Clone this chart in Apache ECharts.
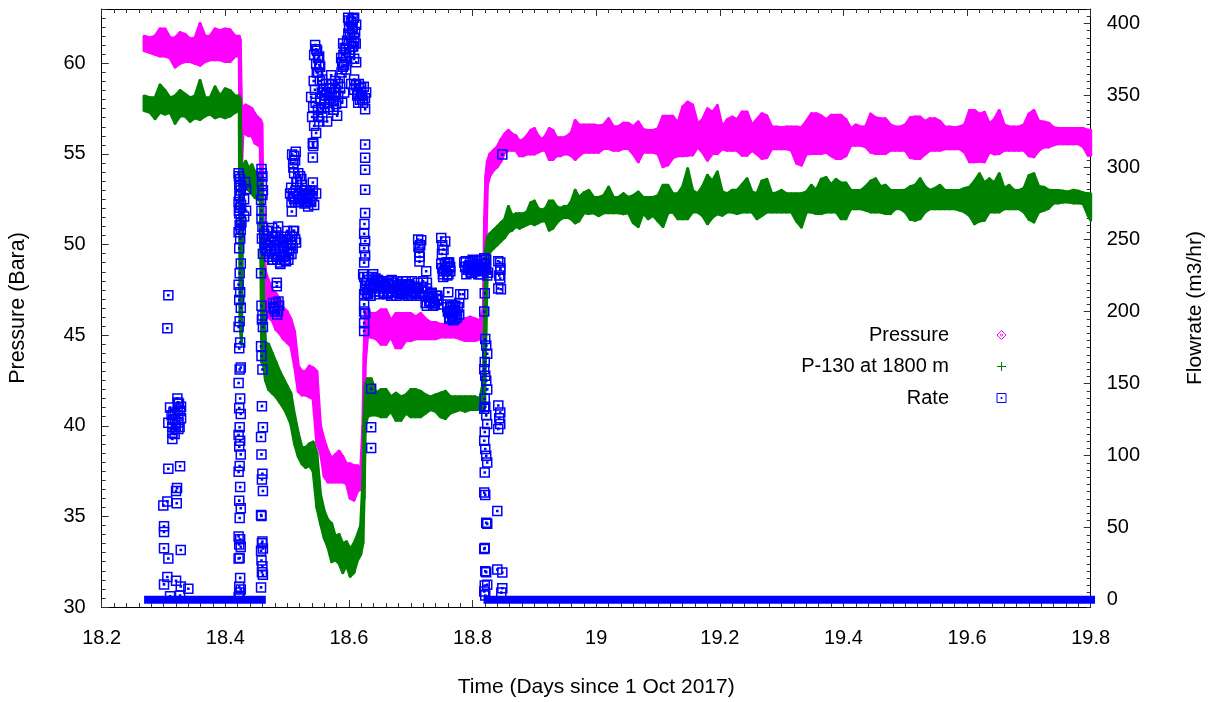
<!DOCTYPE html>
<html>
<head>
<meta charset="utf-8">
<script src="https://cdn.jsdelivr.net/npm/echarts@6/dist/echarts.min.js"></script>
<style>html,body{margin:0;padding:0;background:#fff}#chart{width:1216px;height:702px}</style>
</head>
<body>
<div id="chart"></div>
<script>
// ---------------- DATA ----------------
// Shared sample times (days since 1 Oct 2017) for the two pressure bands
const bandTime = [
  18.2685, 18.2782, 18.2863, 18.2944, 18.3025, 18.3106, 18.3187, 18.3268, 18.3348, 18.3429,
  18.3510, 18.3591, 18.3672, 18.3753, 18.3834, 18.3915, 18.3996, 18.4077, 18.4158, 18.4225,
  18.4240, 18.4262, 18.4285, 18.4330, 18.4380, 18.4430, 18.4480, 18.4530, 18.4565, 18.4590, 18.4620, 18.4650,
  18.470, 18.476, 18.482, 18.488, 18.494, 18.500, 18.506, 18.512, 18.518, 18.524,
  18.530, 18.536, 18.542, 18.548, 18.554, 18.560, 18.566, 18.572, 18.578, 18.584,
  18.590, 18.596, 18.602, 18.608, 18.614, 18.619, 18.6225, 18.6245, 18.6265, 18.630,
  18.636, 18.644, 18.652, 18.660, 18.668, 18.676, 18.684, 18.692, 18.700, 18.708,
  18.716, 18.724, 18.732, 18.740, 18.748, 18.756, 18.764, 18.772, 18.780, 18.788,
  18.796, 18.804, 18.812, 18.8175,
  18.8195, 18.8215, 18.824, 18.828, 18.834, 18.840, 18.846, 18.852, 18.858, 18.864, 18.870,
  18.876, 18.882, 18.888, 18.894, 18.900, 18.906, 18.912, 18.918, 18.924, 18.930,
  18.936, 18.942, 18.948, 18.954, 18.960, 18.966, 18.972,
  18.980, 18.988, 18.996, 19.004, 19.012, 19.020, 19.028, 19.036, 19.044, 19.052,
  19.060, 19.068, 19.076, 19.084, 19.092, 19.100, 19.108, 19.116, 19.124, 19.132,
  19.140, 19.148, 19.156, 19.164, 19.172, 19.180, 19.188, 19.196, 19.204, 19.212,
  19.220, 19.228, 19.236, 19.244, 19.252, 19.260, 19.268, 19.276, 19.284, 19.292,
  19.300, 19.308, 19.316, 19.324, 19.332, 19.340, 19.348, 19.356, 19.364, 19.372,
  19.380, 19.388, 19.396, 19.404, 19.412, 19.420, 19.428, 19.436, 19.444, 19.452,
  19.460, 19.468, 19.476, 19.484, 19.492, 19.500, 19.508, 19.516, 19.524, 19.532,
  19.540, 19.548, 19.556, 19.564, 19.572, 19.580, 19.588, 19.596, 19.604, 19.612,
  19.620, 19.628, 19.636, 19.644, 19.652, 19.660, 19.668, 19.676, 19.684, 19.692,
  19.700, 19.708, 19.716, 19.724, 19.732, 19.740, 19.748, 19.756, 19.764, 19.772,
  19.780, 19.788, 19.796, 19.800
];

// "Pressure" (Bara): lower and upper edge of the scatter band
const pressureLow = [
  60.7, 60.6, 60.5, 60.4, 60.4, 60.3, 59.8, 60.0, 60.1, 60.1,
  60.0, 59.9, 60.1, 60.2, 60.2, 60.2, 60.1, 60.1, 60.4, 60.4,
  55.0, 54.2, 56.2, 56.1, 56.0, 56.0, 55.6, 55.5, 55.4, 48.5, 47.5, 46.5,
  46.0, 45.8, 45.3, 45.1, 44.8, 44.6, 44.4, 43.3, 41.9, 41.7,
  41.7, 41.6, 41.5, 39.0, 38.5, 37.2, 36.9, 36.9, 36.9, 36.9,
  36.9, 36.8, 36.0, 35.9, 36.4, 36.5, 36.8, 40.0, 43.5, 44.9,
  44.9, 44.8, 44.5, 44.5, 44.9, 44.3, 44.3, 44.7, 44.7, 44.8,
  44.8, 44.8, 44.8, 44.8, 44.9, 44.9, 44.9, 44.9, 44.8, 44.7,
  44.7, 44.7, 44.8, 44.8,
  45.5, 50.0, 53.3, 53.8, 54.1, 54.3, 54.6, 55.1, 55.2, 55.2, 55.2,
  54.9, 54.9, 55.0, 55.0, 55.0, 55.1, 55.2, 55.2, 54.7, 54.7,
  54.9, 54.9, 55.0, 55.0, 54.9, 54.7, 54.9,
  55.1, 55.1, 55.1, 55.1, 55.3, 55.3, 55.2, 55.2, 55.3, 55.3,
  55.0, 54.57, 55.1, 55.1, 55.1, 55.0, 54.3, 54.4, 54.8, 54.9,
  54.9, 54.93, 54.95, 55.39, 55.1, 54.66, 55.02, 55.02, 55.29, 55.2,
  55.2, 55.2, 54.93, 54.93, 55.2, 55.0, 54.75, 54.8, 55.29, 55.29,
  55.29, 55.29, 55.2, 54.5, 54.39, 55.0, 55.02, 55.02, 55.02, 55.1,
  54.9, 54.75, 54.75, 54.9, 55.48, 55.48, 55.48, 55.4, 55.1, 55.02,
  55.02, 55.02, 55.2, 55.2, 55.2, 55.2, 54.8, 54.75, 54.75, 55.0,
  55.2, 55.2, 55.2, 55.29, 55.29, 55.29, 55.29, 55.1, 54.57, 54.57,
  54.6, 54.57, 55.11, 55.0, 55.02, 55.2, 55.2, 55.2, 55.2, 55.2,
  54.9, 54.84, 55.2, 55.39, 55.39, 55.5, 55.57, 55.57, 55.57, 55.57,
  55.57, 55.4, 54.93, 54.93
];
const pressureHigh = [
  61.5, 61.4, 61.5, 61.9, 61.9, 61.4, 61.4, 61.7, 61.6, 61.35,
  61.4, 62.2, 61.5, 61.5, 61.9, 61.8, 61.9, 61.85, 61.5, 61.5,
  61.3, 57.6, 57.6, 57.7, 57.6, 57.5, 57.2, 57.0, 56.9, 56.7, 50.5, 48.5,
  48.0, 47.5, 47.3, 47.0, 46.5, 46.3, 45.9, 45.2, 43.3, 43.0,
  43.0, 43.3, 43.2, 43.0, 40.0, 39.2, 38.6, 38.2, 38.4, 38.6,
  38.3, 37.9, 37.9, 37.8, 37.8, 37.6, 40.0, 44.0, 46.3, 46.3,
  46.2, 46.2, 46.4, 46.4, 45.8, 46.2, 46.2, 46.2, 46.2, 46.0,
  46.2, 45.9, 45.7, 45.7, 45.6, 45.6, 45.7, 45.7, 45.8, 45.9,
  46.0, 45.9, 45.8, 46.5,
  51.5, 53.8, 54.6, 55.0, 55.2, 55.4, 55.8, 56.1, 56.3, 56.1, 56.0,
  55.7, 55.8, 56.0, 56.3, 56.4, 56.0, 55.8, 56.0, 56.4, 56.3,
  55.9, 55.9, 55.9, 56.0, 56.2, 56.85, 56.6,
  56.6, 56.6, 56.6, 56.55, 56.6, 56.95, 56.5, 56.5, 56.7, 56.7,
  56.5, 56.77, 56.35, 56.3, 56.3, 56.4, 57.08, 57.08, 57.08, 56.7,
  57.6, 57.86, 57.7, 56.67, 56.9, 57.49, 57.3, 57.67, 56.49, 56.9,
  57.04, 56.9, 57.31, 57.31, 56.6, 56.9, 57.22, 57.1, 56.49, 56.49,
  56.45, 56.49, 56.49, 56.49, 56.45, 56.8, 57.22, 57.22, 57.1, 56.9,
  57.13, 57.13, 57.13, 56.9, 56.4, 56.6, 56.49, 56.5, 57.2, 57.0,
  56.95, 56.95, 56.6, 56.49, 56.49, 56.6, 57.0, 57.04, 57.04, 56.8,
  56.95, 56.95, 56.8, 56.49, 56.49, 56.45, 56.49, 56.6, 57.4, 57.4,
  57.2, 57.3, 56.67, 56.9, 57.4, 56.6, 56.49, 56.49, 56.49, 56.6,
  57.2, 57.4, 56.8, 56.77, 56.7, 56.45, 56.40, 56.40, 56.40, 56.40,
  56.40, 56.4, 56.31, 56.31
];

// "P-130 at 1800 m" (Bara): lower and upper edge of the scatter band
const p130Low = [
  57.4, 57.3, 56.95, 57.3, 57.2, 57.3, 56.7, 57.1, 57.1, 56.8,
  57.0, 56.9, 57.1, 57.2, 57.0, 57.1, 57.0, 57.1, 57.3, 57.4,
  45.5, 44.5, 53.3, 53.1, 53.0, 52.8, 52.6, 52.5, 52.4, 43.5, 43.3, 42.5,
  42.0, 41.8, 41.6, 41.3, 41.0, 40.6, 40.1, 39.0, 38.3, 37.9,
  37.7, 37.8, 37.5, 35.5, 34.6, 33.8, 33.3, 32.5, 32.6, 32.4,
  31.9, 32.3, 31.7, 31.9, 32.6, 32.9, 33.5, 36.0, 40.0, 40.5,
  40.6, 40.6, 40.5, 40.5, 40.8, 40.3, 40.3, 40.7, 40.5, 40.5,
  40.5, 40.7, 40.9, 40.8, 40.5, 40.4, 40.7, 40.8, 40.9, 40.8,
  40.9, 40.9, 40.9, 40.8,
  41.0, 45.0, 48.8, 49.6, 49.8, 50.0, 50.2, 50.4, 50.7, 50.8, 51.0,
  50.9, 51.0, 51.1, 51.2, 51.1, 51.2, 51.3, 51.3, 50.8, 50.9,
  51.2, 51.4, 51.5, 51.5, 51.4, 51.2, 51.3,
  51.75, 51.71, 51.75, 51.6, 51.75, 51.75, 51.75, 51.75, 51.7, 51.75,
  51.2, 51.0, 51.75, 51.43, 51.6, 51.3, 51.0, 51.75, 51.8, 51.43,
  51.43, 51.43, 51.8, 51.8, 51.6, 51.15, 51.5, 51.7, 51.62, 51.8,
  51.8, 51.71, 51.8, 51.8, 51.8, 51.43, 51.6, 51.8, 51.8, 51.8,
  51.8, 51.8, 51.8, 51.3, 50.97, 51.8, 51.8, 51.71, 51.71, 51.8,
  51.8, 51.8, 51.43, 51.43, 51.98, 51.98, 51.98, 51.9, 51.8, 51.8,
  51.8, 51.71, 51.71, 51.98, 51.98, 51.8, 51.4, 51.34, 51.43, 51.8,
  51.98, 51.98, 51.98, 51.98, 51.98, 51.98, 51.9, 51.8, 51.6, 51.15,
  51.3, 51.34, 51.8, 51.8, 51.8, 51.98, 51.98, 51.98, 51.98, 51.8,
  51.4, 51.25, 51.8, 51.89, 52.0, 52.3, 52.3, 52.35, 52.35, 52.3,
  52.3, 52.25, 51.6, 51.34
];
const p130High = [
  58.2, 58.1, 58.1, 58.8, 58.5, 58.1, 58.2, 58.5, 58.3, 58.1,
  58.2, 59.05, 58.1, 58.1, 58.7, 58.2, 58.6, 58.5, 58.2, 58.2,
  58.0, 54.3, 54.3, 54.6, 54.2, 54.4, 54.0, 53.8, 53.6, 53.5, 47.0, 44.6,
  44.5, 44.0, 43.5, 43.0, 42.6, 42.2, 41.8, 40.6, 39.6, 38.8,
  38.8, 39.0, 39.1, 38.5, 36.2, 35.3, 34.8, 34.6, 33.9, 34.0,
  33.5, 33.6, 33.2, 33.5, 34.0, 34.5, 37.0, 40.5, 42.3, 42.6,
  42.6, 41.8, 42.0, 42.0, 41.6, 41.8, 41.6, 41.7, 42.0, 42.0,
  41.9, 41.7, 41.6, 41.7, 41.8, 41.9, 41.6, 41.6, 41.6, 41.6,
  41.6, 41.6, 41.5, 42.5,
  46.5, 49.8, 50.4, 50.6, 50.8, 51.0, 51.2, 51.4, 52.1, 51.6, 51.7,
  51.7, 51.7, 51.8, 52.3, 52.4, 52.0, 51.9, 52.0, 52.4, 52.4,
  52.1, 52.0, 52.1, 52.1, 52.4, 53.0, 52.6,
  52.85, 52.99, 52.6, 52.6, 52.7, 53.17, 52.6, 52.6, 52.81, 52.6,
  52.7, 52.9, 52.6, 52.6, 52.6, 52.7, 53.27, 53.27, 52.8, 52.8,
  53.2, 54.18, 52.99, 52.81, 53.2, 53.82, 53.5, 54.0, 52.9, 52.81,
  53.0, 53.0, 53.3, 53.63, 52.9, 52.81, 53.5, 53.6, 52.81, 52.85,
  52.99, 52.81, 52.81, 52.81, 52.81, 52.9, 53.27, 53.0, 53.6, 53.7,
  53.3, 53.6, 53.4, 53.4, 52.99, 52.99, 52.99, 53.2, 53.5, 53.63,
  53.2, 53.27, 52.99, 52.99, 52.99, 53.0, 53.2, 53.27, 53.63, 53.2,
  52.99, 53.1, 53.27, 52.99, 52.99, 52.99, 52.99, 53.1, 53.17, 53.5,
  53.91, 53.4, 53.63, 53.4, 53.91, 53.1, 53.27, 53.0, 52.99, 53.1,
  53.8, 53.91, 53.2, 53.17, 53.0, 52.99, 52.99, 52.95, 52.9, 53.0,
  52.95, 52.85, 52.81, 52.8
];

// "Rate" (m3/hr): individual non-zero samples
const rateTime = [
  18.2997, 18.3008, 18.3008, 18.3008, 18.3008, 18.3062, 18.3062, 18.3062, 18.3078, 18.3078, 18.3078, 18.3078,
  18.3106, 18.3106, 18.3143, 18.3143, 18.3143, 18.3187, 18.3187, 18.3203, 18.3203, 18.3214, 18.3219, 18.3224,
  18.3235, 18.3240, 18.3240, 18.3240, 18.3268, 18.3268, 18.3268, 18.3279, 18.3279, 18.3284, 18.3284, 18.3402,
  18.3150, 18.3160, 18.3200, 18.3230, 18.3180, 18.3260, 18.3250, 18.3130,
  18.4215, 18.4240, 18.4225, 18.4250, 18.4232, 18.4215, 18.4240, 18.4225, 18.4250, 18.4232,
  18.4215, 18.4240, 18.4225, 18.4250, 18.4232, 18.4215, 18.4240, 18.4225, 18.4250, 18.4232,
  18.4215, 18.4240, 18.4225, 18.4250, 18.4232, 18.4215, 18.4240, 18.4225, 18.4250, 18.4232,
  18.4215, 18.4240, 18.4225, 18.4250, 18.4232, 18.4215, 18.4240, 18.4225, 18.4250, 18.4232,
  18.4215, 18.4240, 18.4225, 18.4250, 18.4232, 18.4215, 18.4240, 18.4225, 18.4250, 18.4232,
  18.4215, 18.4320, 18.4336, 18.4304, 18.4336, 18.4304,
  18.4220, 18.4245, 18.4230, 18.4255, 18.4220, 18.4260, 18.4250,
  18.4585, 18.4600, 18.4592, 18.4608, 18.4578, 18.4585, 18.4600, 18.4592, 18.4608, 18.4578,
  18.4585, 18.4600, 18.4592, 18.4608, 18.4578, 18.4585, 18.4600, 18.4592, 18.4608, 18.4578,
  18.4585, 18.4600, 18.4592, 18.4608, 18.4578, 18.4585, 18.4600, 18.4592, 18.4608, 18.4578,
  18.4585, 18.4600, 18.4592, 18.4608, 18.4578,
  18.4590, 18.4600, 18.4585,
  18.4627, 18.4660, 18.4692, 18.4724, 18.4757, 18.4643, 18.4692, 18.4741, 18.4773, 18.4822, 18.4886,
  18.4935, 18.4983, 18.5032, 18.4789, 18.4854, 18.4951, 18.5016, 18.5064, 18.4757, 18.4822, 18.4854,
  18.5000, 18.5081, 18.5145, 18.5113, 18.4833, 18.4833, 18.4773, 18.4805, 18.4838, 18.4870, 18.4789,
  18.4635, 18.4665, 18.4700, 18.4710, 18.4745, 18.4760, 18.4790, 18.4800, 18.4840, 18.4870,
  18.4900, 18.4915, 18.4950, 18.4970, 18.5000, 18.5020, 18.5050, 18.5090, 18.5100, 18.5130,
  18.4680, 18.4730, 18.4770, 18.4810, 18.4830, 18.4880, 18.4890, 18.4930, 18.4960, 18.4990, 18.5040, 18.5070,
  18.4780, 18.4815, 18.4850, 18.4860,
  18.5081, 18.5129, 18.5097, 18.5113, 18.5162, 18.5210, 18.5242, 18.5048, 18.5113, 18.5178, 18.5242,
  18.5307, 18.5372, 18.5437, 18.5469, 18.5275, 18.5340, 18.5076, 18.5416, 18.5416, 18.5416, 18.5416,
  18.5065, 18.5090, 18.5140, 18.5150, 18.5190, 18.5225, 18.5260, 18.5290, 18.5320, 18.5355,
  18.5390, 18.5410, 18.5180, 18.5230, 18.5100, 18.5115, 18.5140,
  18.5200, 18.5240, 18.5280, 18.5310, 18.5340, 18.5370, 18.5130, 18.5100, 18.5070,
  18.5987, 18.6036, 18.6084, 18.6117, 18.6052, 18.6003, 18.6019, 18.6084, 18.5906, 18.5955, 18.6003, 18.6052, 18.6084, 18.6084, 18.6117,
  18.5874, 18.5923, 18.5955, 18.5890, 18.5453, 18.5485, 18.5518, 18.5469, 18.5534, 18.5437,
  18.5502, 18.5566, 18.5631, 18.5696, 18.5761, 18.5825, 18.5890, 18.5615, 18.5680, 18.5745,
  18.5809, 18.5550, 18.5502, 18.5647, 18.5777, 18.5858, 18.5923, 18.5712, 18.5583, 18.5793,
  18.6036, 18.6084, 18.6133, 18.6181, 18.6230, 18.6278, 18.6117, 18.6198, 18.6084, 18.6262,
  18.5388, 18.5421, 18.5404, 18.5437, 18.5469, 18.5421, 18.5421,
  18.5470, 18.5500, 18.5520, 18.5480, 18.5530, 18.5560, 18.5600, 18.5640, 18.5660, 18.5700,
  18.5730, 18.5760, 18.5790, 18.5820, 18.5850, 18.5880, 18.5910, 18.5930, 18.5970, 18.6000,
  18.6020, 18.6000, 18.6060, 18.6100, 18.6070, 18.6150, 18.6160, 18.6210, 18.6240, 18.6260,
  18.5430, 18.5450, 18.5460, 18.5500, 18.5570,
  18.5990, 18.6040, 18.6060, 18.6110, 18.5950, 18.5900, 18.6150, 18.6190, 18.6220, 18.5680,
  18.5720, 18.5750, 18.5610, 18.5540, 18.5520,
  18.6262, 18.6262, 18.6262, 18.6262, 18.6262, 18.6251, 18.6246, 18.6262, 18.6246, 18.6262,
  18.6246, 18.6246, 18.6262, 18.6246, 18.6246, 18.6246, 18.6262, 18.6246, 18.6246, 18.6359, 18.6359, 18.6359,
  18.6230, 18.6295, 18.6359, 18.6424, 18.6489, 18.6311, 18.6392, 18.6457, 18.6521, 18.6262,
  18.6586, 18.6651, 18.6715, 18.6780, 18.6845, 18.6910, 18.6975, 18.7039, 18.7104, 18.6683, 18.6877, 18.7007,
  18.6270, 18.6330, 18.6370, 18.6410, 18.6440, 18.6470, 18.6500, 18.6540, 18.6560, 18.6600,
  18.6630, 18.6670, 18.6700, 18.6740, 18.6760, 18.6800, 18.6820, 18.6860, 18.6900, 18.6930,
  18.6960, 18.7000, 18.7060, 18.7080, 18.7130, 18.7170, 18.7200,
  18.6290, 18.6350, 18.6390, 18.6430, 18.6480, 18.6520, 18.6570, 18.6620, 18.6650, 18.6690,
  18.6720, 18.6770, 18.6790, 18.6830, 18.6880, 18.6920, 18.6950, 18.6990, 18.7020, 18.7050,
  18.7090, 18.7110, 18.7150, 18.7190,
  18.7120, 18.7153, 18.7137, 18.7169, 18.7141, 18.7250, 18.7493, 18.7542, 18.7590, 18.7638, 18.7525, 18.7622,
  18.7493, 18.7557, 18.7504, 18.7261, 18.7261, 18.7234, 18.7299, 18.7363, 18.7428, 18.7493, 18.7331,
  18.7240, 18.7280, 18.7320, 18.7350, 18.7390, 18.7410, 18.7450,
  18.7260, 18.7300, 18.7340, 18.7370, 18.7430,
  18.7510, 18.7550, 18.7570, 18.7610, 18.7600, 18.7640, 18.7125, 18.7145, 18.7510, 18.7530,
  18.7520, 18.7580, 18.7630,
  18.7606, 18.7800, 18.7849, 18.7784, 18.7590, 18.7655, 18.7719, 18.7784, 18.7687, 18.7622,
  18.7600, 18.7640, 18.7670, 18.7700, 18.7740, 18.7760, 18.7630,
  18.7620, 18.7660, 18.7690, 18.7720, 18.7750,
  18.7865, 18.7930, 18.7994, 18.8059, 18.8124, 18.8189, 18.8253, 18.7962, 18.8091, 18.8221,
  18.7880, 18.7900, 18.7950, 18.7980, 18.8010, 18.8030, 18.8070, 18.8100, 18.8140, 18.8160, 18.8200,
  18.7890, 18.7920, 18.7970, 18.8000, 18.8050, 18.8080, 18.8120, 18.8150, 18.8180,
  18.8448, 18.8448, 18.8448, 18.8459,
  18.8189, 18.8205, 18.8221, 18.8237, 18.8197, 18.8189, 18.8205, 18.8221, 18.8237, 18.8197,
  18.8189, 18.8205, 18.8221, 18.8237, 18.8197, 18.8189, 18.8205, 18.8221, 18.8237, 18.8197,
  18.8189, 18.8205, 18.8221, 18.8237, 18.8197, 18.8189, 18.8205, 18.8221, 18.8237, 18.8197,
  18.8189, 18.8205, 18.8221, 18.8237, 18.8197, 18.8189, 18.8205,
  18.8416, 18.8448, 18.8432, 18.8416, 18.8416, 18.8448, 18.8432, 18.8448, 18.8416, 18.8400, 18.8400, 18.8481, 18.8481, 18.8465, 18.8481
];
const rateValue = [
  65.5, 51, 47, 35.8, 10.7, 188.4, 68.3, 15.8, 211.3, 122.9, 91, 28.6,
  133.5, 2.5, 120, 116, 111.6, 129, 125, 75.5, 13.2, 67, 77.5, 139.7,
  137, 127.6, 123, 118.6, 131, 92.7, 3.0, 34.5, 9.3, 134, 126, 7.7,
  125, 130, 120, 132, 115, 120, 136, 128,
  296, 292, 288, 284, 280, 276, 272, 268, 264, 260,
  255, 250.8, 244, 233.4, 226.7, 218.7, 213.4, 208, 202.7, 193.3,
  189.3, 178.5, 174.5, 161.2, 159.8, 150.4, 139.7, 133, 129, 119.7,
  114.3, 110.3, 106.3, 100.9, 92.9, 88.8, 78.2, 68.8, 63.5, 56.8,
  44, 42, 38.4, 36.7, 29, 28.6, 15.2, 9, 7.2, 5,
  1.9, 290, 285, 278, 270, 266,
  294, 287, 281, 274, 270, 262, 257,
  299, 293.7, 288.3, 284.3, 277.6, 264.2, 258.9, 250.8, 240.1, 226.7,
  204, 197.3, 194.6, 189.3, 175.9, 169.2, 159.8, 134.4, 119.7, 113,
  100.9, 87.5, 83.5, 75.5, 58.8, 58.1, 40.4, 39.3, 35.6, 34,
  27.3, 23.3, 19.2, 17.4, 8.6,
  296, 281, 270,
  254, 250, 246, 242, 252, 244, 256, 248, 236, 240, 234,
  238, 235, 240, 246, 249, 245, 250, 246, 258, 255, 259,
  256, 252, 248, 256, 220, 217.6, 206, 200, 198, 204, 202,
  248, 242, 250, 238, 244, 236, 240, 252, 236, 244,
  238, 248, 240, 252, 244, 236, 252, 244, 256, 250,
  256, 246, 252, 244, 238, 250, 233, 244, 236, 248, 244, 240,
  203, 206, 200, 207,
  309, 305, 303, 296, 290, 294, 288, 282, 278, 276, 280,
  276, 278, 274, 282, 284, 273, 269.5, 289.6, 307, 316.4, 284,
  286, 280, 284, 290, 282, 276, 279, 281, 276, 282,
  276, 280, 296, 292, 300, 308, 311,
  278, 284, 275, 284, 279, 284, 276, 282, 276,
  404, 401, 404, 399, 396, 397, 392, 390, 386, 382, 380, 384, 387, 375.4, 373,
  376, 371, 368, 373, 385, 381, 377, 372, 370, 378,
  366, 361, 358, 355, 352, 349, 345, 350, 345, 340,
  336, 341, 336, 332, 360, 356, 352, 364, 354, 344,
  358, 354, 350, 347, 345, 352, 357, 355, 361, 340.5,
  349, 342, 335, 329, 324, 317, 315,
  382, 376, 371, 366, 360, 352, 347, 352, 342, 348,
  358, 346, 352, 358, 362, 366, 378, 383, 388, 386,
  380, 402, 396, 394, 384, 352, 358, 350, 356, 348,
  360, 354, 345, 340, 335,
  393, 388, 403, 386, 376, 370, 345, 352, 347, 355,
  350, 340, 344, 348, 332,
  316, 306.8, 298.5, 284.5, 268.5, 260.8, 254, 249, 244, 239,
  234, 224, 218, 212, 205, 200, 198.7, 192, 186.5, 146.4, 119.7, 105.4,
  226, 222, 218, 214, 212, 212, 226, 221, 217, 215,
  218, 214, 220, 213, 217, 212, 219, 214, 216, 211, 221, 211,
  220, 216, 224, 219, 216, 222, 214, 220, 213, 217,
  221, 216, 213, 218, 214, 218, 212, 215, 218, 214,
  216, 214, 217, 212, 213, 217, 221,
  213, 211, 219, 223, 218, 221, 216, 212, 219, 222,
  216, 211, 221, 219, 213, 221, 211, 218, 221, 213,
  216, 220, 211, 214,
  250, 246, 241, 249.6, 234.7, 228, 233, 228, 225, 231, 224, 234,
  251, 248.7, 240, 220, 216, 211, 207, 204, 209, 205, 212,
  206, 211, 206, 210, 205, 211, 208,
  204, 210, 213, 206, 211,
  230, 233, 229, 226, 234, 228, 245, 238, 246, 243,
  226, 234, 231,
  213.4, 212, 212, 205.9, 203, 199, 195, 198, 204, 195,
  200, 203, 197, 201, 198, 203, 196,
  199, 205, 194, 204, 196,
  234, 230, 227, 232, 229, 233, 227, 235, 226, 236,
  231, 226, 232, 230, 234, 228, 235, 231, 233, 228, 230,
  235, 229, 227, 236, 229, 233, 226, 236, 231,
  234, 229, 223, 215.5,
  237, 233, 229, 225, 212.7, 200, 181, 176.4, 170.8, 165,
  160, 155.5, 152, 146, 139.5, 132.5, 134, 128, 122, 116.5,
  110.4, 104.6, 100, 95.3, 88.3, 74.4, 72.8, 53.5, 52.7, 36,
  35.3, 19.8, 19.2, 10.5, 9.9, 5.8, 3,
  235, 230, 225, 216, 134.8, 130, 126, 122, 118.6, 61.6, 21, 19, 8, 5, 309
];

// "Rate": periods in which every sample is zero (start / end day)
const rateZeroStart = [18.2686, 18.8177];
const rateZeroEnd = [18.4655, 19.8070];

// Axis ticks
const flowTicks = [0, 50, 100, 150, 200, 250, 300, 350, 400];

// ---------------- CHART ----------------
const FONT = '"Liberation Sans", Arial, Helvetica, sans-serif';
const MAGENTA = '#ff00ff', GREEN = '#008000', BLUE = '#0000ff';

function bandItems(lo, hi) {
  const n = Math.min(bandTime.length, lo.length, hi.length);
  const out = [];
  for (let i = 0; i < n - 1; i++) {
    out.push([bandTime[i], lo[i], hi[i], bandTime[i + 1], lo[i + 1], hi[i + 1]]);
  }
  return out;
}
function bandRenderer(color) {
  return function (params, api) {
    const pts = [
      api.coord([api.value(0), api.value(1)]),
      api.coord([api.value(0), api.value(2)]),
      api.coord([api.value(3), api.value(5)]),
      api.coord([api.value(3), api.value(4)])
    ];
    return { type: 'polygon', shape: { points: pts },
      style: { fill: color, stroke: color, lineWidth: 3, lineJoin: 'round' } };
  };
}

const ratePts = [];
for (let i = 0; i < Math.min(rateTime.length, rateValue.length); i++) ratePts.push([rateTime[i], rateValue[i]]);
const zeroRuns = rateZeroStart.map((s, i) => [s, rateZeroEnd[i], 0]);

const tickStyle = { color: '#333', width: 1 };
const frameLine = { show: true, onZero: false, lineStyle: { color: '#000', width: 1 } };

const chart = echarts.init(document.getElementById('chart'), null, { renderer: 'canvas' });
chart.setOption({
  animation: false,
  backgroundColor: '#fff',
  textStyle: { fontFamily: FONT },
  grid: { left: 101.7, right: 125.3, top: 9, bottom: 95, containLabel: false, outerBoundsMode: 'none' },
  legend: {
    orient: 'vertical', align: 'right', right: 209.5, top: 324, padding: 0,
    itemWidth: 9, itemHeight: 9, itemGap: 9.5, selectedMode: false,
    textStyle: { fontFamily: FONT, fontSize: 20, color: '#000', lineHeight: 22, padding: [0, 43, 0, 0] },
    data: [
      { name: 'Pressure', icon: 'path://M5,0L10,5L5,10L0,5Z M5,3.6L6.4,5L5,6.4L3.6,5Z',
        itemStyle: { color: 'rgba(0,0,0,0)', borderColor: MAGENTA, borderWidth: 1 } },
      { name: 'P-130 at 1800 m', icon: 'path://M4.4,0H5.6V10H4.4Z M0,4.4H10V5.6H0Z',
        itemStyle: { color: GREEN, borderWidth: 0 } },
      { name: 'Rate', icon: 'path://M0,0H10V10H0Z M4.4,4.4H5.6V5.6H4.4Z',
        itemStyle: { color: 'rgba(0,0,0,0)', borderColor: BLUE, borderWidth: 1 } }
    ]
  },
  xAxis: [
    {
      type: 'value', position: 'bottom', min: 18.2, max: 19.8, interval: 0.2,
      axisLine: frameLine,
      axisTick: { inside: true, length: 7, lineStyle: tickStyle },
      minorTick: { show: true, splitNumber: 10, length: 4, lineStyle: tickStyle },
      axisLabel: { fontSize: 20, color: '#000', margin: 21, fontFamily: FONT },
      splitLine: { show: false }, minorSplitLine: { show: false },
      name: 'Time (Days since 1 Oct 2017)', nameLocation: 'middle', nameGap: 69.5,
      nameTextStyle: { fontSize: 21, color: '#000', fontFamily: FONT }
    },
    {
      type: 'value', position: 'top', min: 18.2, max: 19.8, interval: 0.2,
      axisLine: frameLine,
      axisTick: { inside: true, length: 7, lineStyle: tickStyle },
      minorTick: { show: true, splitNumber: 10, length: 4, lineStyle: tickStyle },
      axisLabel: { show: false }, splitLine: { show: false }
    }
  ],
  yAxis: [
    {
      type: 'value', position: 'left', min: 30, max: 63, interval: 5,
      axisLine: frameLine,
      axisTick: { inside: true, length: 7, lineStyle: tickStyle },
      axisLabel: { fontSize: 20, color: '#000', margin: 16, showMaxLabel: false, fontFamily: FONT },
      splitLine: { show: false },
      name: 'Pressure (Bara)', nameLocation: 'middle', nameGap: 73, nameRotate: 90,
      nameTextStyle: { fontSize: 21.5, color: '#000', fontFamily: FONT }
    },
    {
      type: 'value', position: 'left', min: 30, max: 63, interval: 0.5,
      axisLine: { show: false },
      axisTick: { inside: true, length: 4, lineStyle: tickStyle },
      axisLabel: { show: false }, splitLine: { show: false }
    },
    {
      type: 'value', position: 'right', min: -5, max: 410,
      axisLine: frameLine,
      axisTick: { inside: true, length: 7, lineStyle: tickStyle, customValues: flowTicks },
      axisLabel: { fontSize: 20, color: '#000', margin: 16, customValues: flowTicks, fontFamily: FONT },
      splitLine: { show: false },
      name: 'Flowrate (m3/hr)', nameLocation: 'middle', nameGap: 94, nameRotate: 90,
      nameTextStyle: { fontSize: 21, color: '#000', fontFamily: FONT }
    },
    {
      type: 'value', position: 'right', min: -5, max: 410, interval: 5,
      axisLine: { show: false },
      axisTick: { inside: true, length: 4, lineStyle: tickStyle },
      axisLabel: { show: false }, splitLine: { show: false }
    }
  ],
  series: [
    {
      type: 'custom', name: 'Pressure', xAxisIndex: 0, yAxisIndex: 0,
      data: bandItems(pressureLow, pressureHigh), renderItem: bandRenderer(MAGENTA),
      encode: { x: [0, 3], y: [1, 2, 4, 5] }, silent: true, itemStyle: { color: MAGENTA }
    },
    {
      type: 'custom', name: 'P-130 at 1800 m', xAxisIndex: 0, yAxisIndex: 0,
      data: bandItems(p130Low, p130High), renderItem: bandRenderer(GREEN),
      encode: { x: [0, 3], y: [1, 2, 4, 5] }, silent: true, itemStyle: { color: GREEN }
    },
    {
      type: 'custom', name: 'Rate', xAxisIndex: 0, yAxisIndex: 2,
      data: zeroRuns,
      renderItem: function (params, api) {
        const a = api.coord([api.value(0), api.value(2)]);
        const b = api.coord([api.value(1), api.value(2)]);
        return { type: 'rect', shape: { x: a[0], y: a[1] - 4, width: b[0] - a[0], height: 8 }, style: { fill: BLUE } };
      },
      encode: { x: [0, 1], y: 2 }, silent: true, itemStyle: { color: BLUE }
    },
    {
      type: 'scatter', name: 'Rate', xAxisIndex: 0, yAxisIndex: 2,
      data: ratePts,
      symbol: 'path://M0,0H10V10H0Z M4.4,4.4H5.6V5.6H4.4Z', symbolSize: 9,
      itemStyle: { color: 'rgba(0,0,0,0)', borderColor: BLUE, borderWidth: 1.5, opacity: 1 },
      silent: true
    }
  ]
});
</script>
</body>
</html>
